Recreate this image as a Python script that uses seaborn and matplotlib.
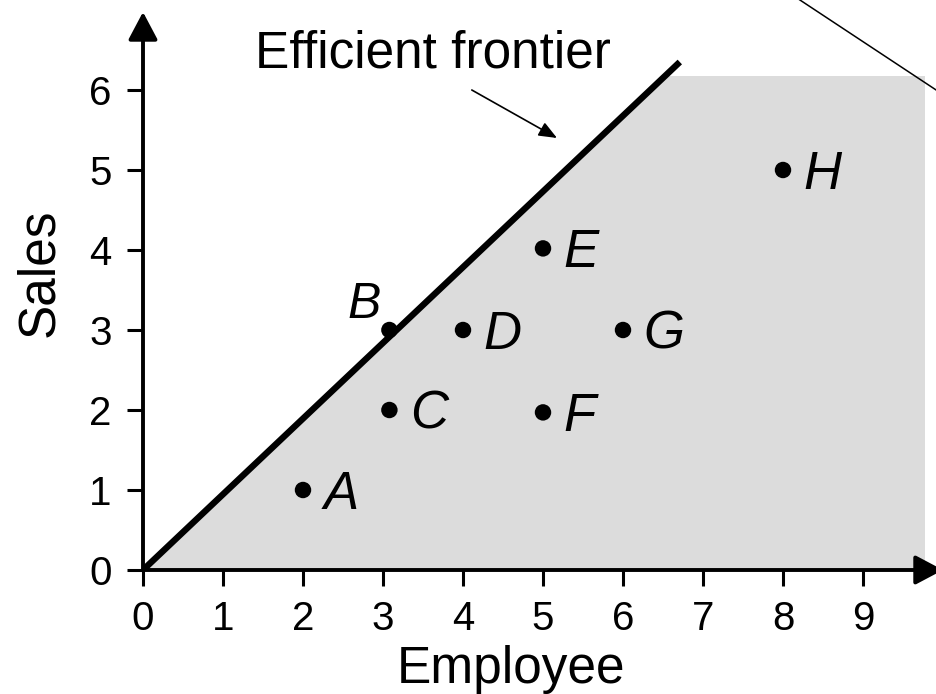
import matplotlib
matplotlib.use("Agg")
import matplotlib.pyplot as plt
import seaborn as sns

# DMUs: employees (input) vs sales (output)
units = ["A", "B", "C", "D", "E", "F", "G", "H"]
employee = [2, 3.08, 3.08, 4, 5, 5, 6, 8]
sales = [1, 3, 2, 3, 4.02, 1.97, 3, 5]

# efficient frontier through the origin and B
frontier_employee = [0, 6.71]
frontier_sales = [0, 6.35]

# production possibility set (shaded)
region_employee = [0, 9.78, 9.78, 6.53]
region_sales = [0, 0, 6.175, 6.175]

# stray connector line at the top right of the original slide
connector_employee = [8.0, 10.3]
connector_sales = [7.265, 5.745]

x_ticks = list(range(10))
y_ticks = list(range(7))

sns.set_style("white")
plt.rcParams["font.family"] = ["Liberation Sans", "DejaVu Sans"]
plt.rcParams["text.color"] = "black"
plt.rcParams["axes.labelcolor"] = "black"
plt.rcParams["xtick.color"] = "black"
plt.rcParams["ytick.color"] = "black"

fig = plt.figure(figsize=(9.36, 6.94), dpi=100)
ax = fig.add_axes([143 / 936, 124 / 694, 792 / 936, 558 / 694])
ax.set_xlim(0, 9.9)
ax.set_ylim(0, 6.975)

ax.fill(region_employee, region_sales, facecolor="#dcdcdc", edgecolor="none", zorder=0)

sns.lineplot(x=frontier_employee, y=frontier_sales, color="black", lw=4.6,
             solid_capstyle="butt", ax=ax, zorder=2)
sns.scatterplot(x=employee, y=sales, s=140, color="black", edgecolor="none",
                ax=ax, zorder=3)

for name, ex, sy in zip(units, employee, sales):
    if name == "B":
        ax.annotate(name, (ex, sy), xytext=(-18, 18), textcoords="offset points",
                    ha="center", va="center", fontsize=36, style="italic")
    else:
        ax.annotate(name, (ex, sy), xytext=(15, -13.5), textcoords="offset points",
                    ha="left", va="baseline", fontsize=38, style="italic")

# axes drawn as arrows
for spine in ax.spines.values():
    spine.set_visible(False)
arrow = dict(arrowstyle="-|>,head_length=1.7,head_width=0.9", color="black", lw=2.8,
             shrinkA=0, shrinkB=0, mutation_scale=10)
ax.annotate("", xy=(10.0, 0), xytext=(0, 0), arrowprops=arrow, annotation_clip=False)
ax.annotate("", xy=(0, 6.975), xytext=(0, 0), arrowprops=arrow, annotation_clip=False)

ax.set_xticks(x_ticks)
ax.set_yticks(y_ticks)
ax.tick_params(axis="both", direction="out", length=11.5, width=2.2, labelsize=29,
               color="black", labelcolor="black", bottom=True, left=True)
ax.tick_params(axis="x", pad=10)
ax.tick_params(axis="y", pad=11)

ax.set_xlabel("Employee", fontsize=37, va="baseline")
ax.xaxis.set_label_coords(4.6 / 9.9, -113 / 558)
ax.set_ylabel("Sales", fontsize=37, va="baseline")
ax.yaxis.set_label_coords(-90 / 792, 297 / 558)

ax.text(1.4, 6.275, "Efficient frontier", fontsize=37, va="baseline")
ax.annotate("", xy=(5.175, 5.4), xytext=(4.11, 6.0),
            arrowprops=dict(arrowstyle="-|>,head_length=1.1,head_width=0.45",
                            color="black", lw=1.2, shrinkA=0, shrinkB=0,
                            mutation_scale=10))

ax.plot(connector_employee, connector_sales, color="black", lw=1.1, clip_on=False)

fig.savefig("out.png", dpi=100)
